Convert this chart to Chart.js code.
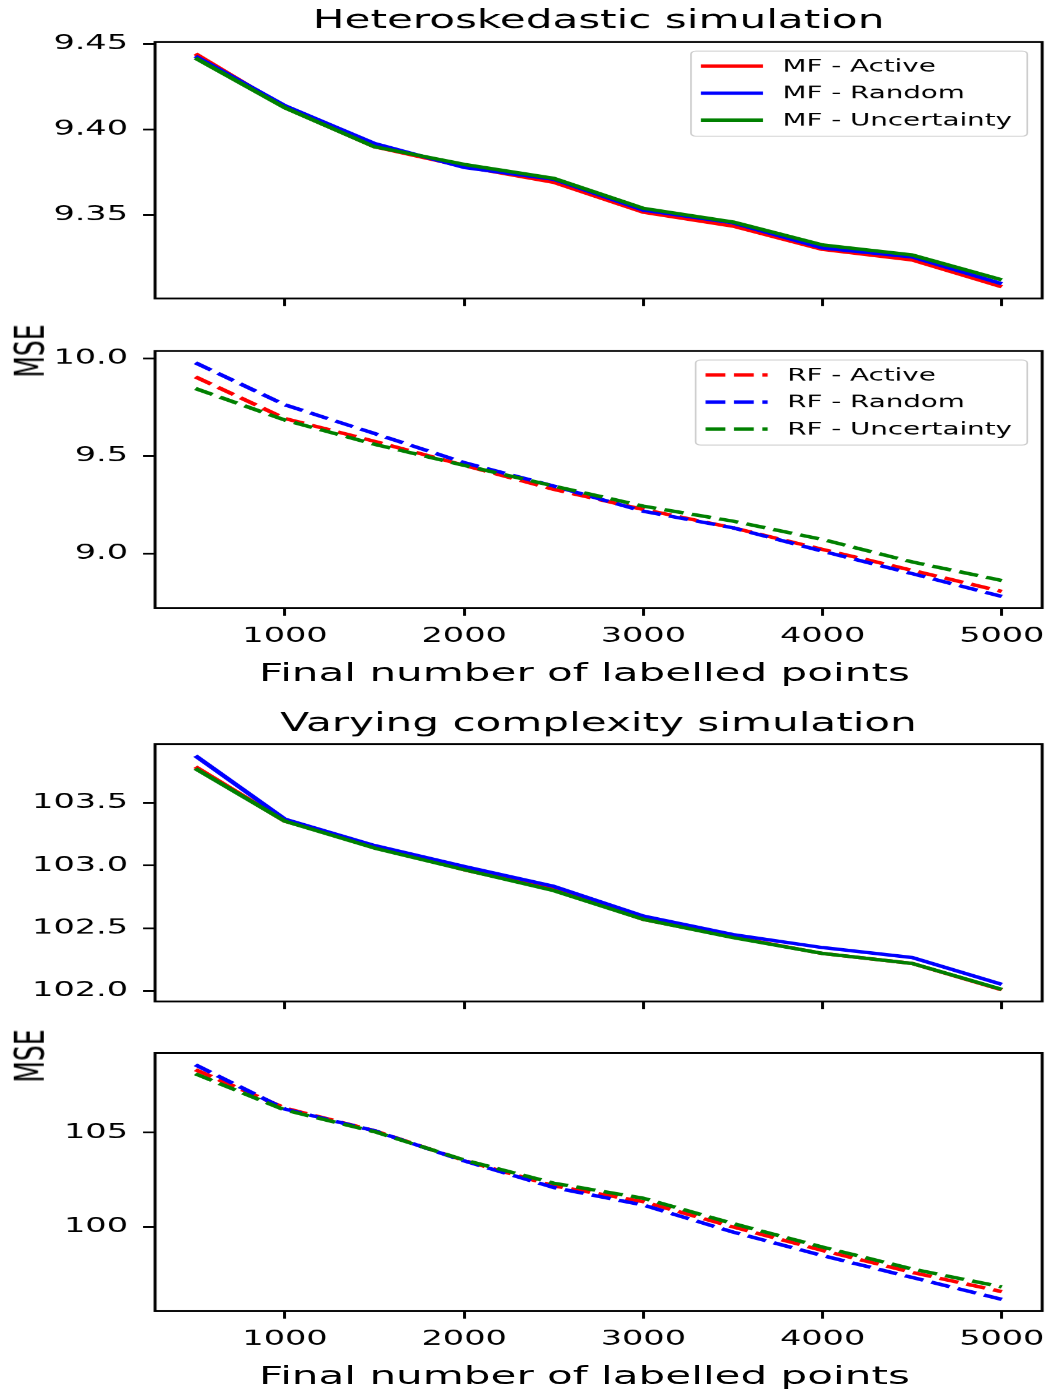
<!DOCTYPE html>
<html>
<head>
<meta charset="utf-8">
<script src="https://cdn.jsdelivr.net/npm/chart.js@4.4.0/dist/chart.umd.min.js"></script>
<style>
  html, body { margin: 0; padding: 0; background: #fff; overflow: hidden; }
  /* the reference figure is stretched sideways, so draw narrow and stretch */
  #fig { position: absolute; left: 0; top: 0; width: 636px; height: 1392px;
         transform: scaleX(1.651); transform-origin: 0 0; }
  #fig canvas { position: absolute; left: 0; }
  .lab { position: absolute; font-family: "DejaVu Sans"; color: #000; white-space: nowrap;
         line-height: 1; }
  .ylab { font-size: 25px; transform: translate(-50%, -50%) rotate(-90deg); }
  .xlab { font-size: 25.5px; transform: translate(-50%, -50%); }
</style>
</head>
<body>
<div id="fig">
  <canvas id="hetMf" width="636" height="310" style="top:0px"></canvas>
  <canvas id="hetRf" width="636" height="380" style="top:320px"></canvas>
  <canvas id="vcMf" width="636" height="310" style="top:700px"></canvas>
  <canvas id="vcRf" width="636" height="372" style="top:1020px"></canvas>
  <div class="lab ylab" style="left:18px; top:351px">MSE</div>
  <div class="lab ylab" style="left:18px; top:1056px">MSE</div>
  <div class="lab xlab" style="left:354px; top:673px">Final number of labelled points</div>
  <div class="lab xlab" style="left:354px; top:1376px">Final number of labelled points</div>
</div>
<script>
const STRETCH = 1.651;

const labelledPoints = [500, 1000, 1500, 2000, 2500, 3000, 3500, 4000, 4500, 5000];
const xTickLabels = ['1000', '2000', '3000', '4000', '5000'];
const methodNames = ['Active', 'Random', 'Uncertainty'];
const methodColors = ['#ff0000', '#0000ff', '#008000'];

// Heteroskedastic simulation
const hetMfActive = [9.4444, 9.4130, 9.3900, 9.3785, 9.3692, 9.3517, 9.3436, 9.3300, 9.3238, 9.3081];
const hetMfRandom = [9.4430, 9.4140, 9.3919, 9.3779, 9.3710, 9.3530, 9.3455, 9.3308, 9.3256, 9.3099];
const hetMfUncertainty = [9.4419, 9.4128, 9.3900, 9.3797, 9.3715, 9.3540, 9.3460, 9.3326, 9.3267, 9.3122];
const hetMfTicks = ['9.35', '9.40', '9.45'];

const hetRfActive = [9.906, 9.692, 9.575, 9.452, 9.329, 9.226, 9.132, 9.021, 8.914, 8.806];
const hetRfRandom = [9.978, 9.762, 9.615, 9.466, 9.346, 9.217, 9.132, 9.012, 8.897, 8.780];
const hetRfUncertainty = [9.846, 9.684, 9.560, 9.452, 9.346, 9.243, 9.166, 9.072, 8.957, 8.862];
const hetRfTicks = ['9.0', '9.5', '10.0'];

// Varying complexity simulation
const vcMfActive = [103.789, 103.355, 103.155, 102.967, 102.810, 102.571, 102.430, 102.298, 102.218, 102.008];
const vcMfRandom = [103.877, 103.370, 103.160, 102.993, 102.834, 102.597, 102.449, 102.345, 102.266, 102.051];
const vcMfUncertainty = [103.775, 103.355, 103.140, 102.967, 102.800, 102.571, 102.425, 102.298, 102.218, 102.011];
const vcMfTicks = ['102.0', '102.5', '103.0', '103.5'];

const vcRfActive = [108.34, 106.30, 105.10, 103.52, 102.18, 101.34, 100.00, 98.75, 97.59, 96.57];
const vcRfRandom = [108.60, 106.25, 105.10, 103.50, 102.09, 101.16, 99.73, 98.48, 97.32, 96.16];
const vcRfUncertainty = [108.12, 106.20, 105.05, 103.55, 102.32, 101.52, 100.18, 98.93, 97.77, 96.82];
const vcRfTicks = ['100', '105'];

Chart.defaults.font.family = '"DejaVu Sans", sans-serif';
Chart.defaults.color = '#000';

// matplotlib style limits: 5% margin around the data
function limits(arrays) {
  const all = [].concat(...arrays);
  const lo = Math.min(...all), hi = Math.max(...all);
  const m = (hi - lo) * 0.05;
  return [lo - m, hi + m];
}

const frame = {
  id: 'frame',
  afterDraw(chart) {
    const { ctx, chartArea: a } = chart;
    ctx.save();
    ctx.strokeStyle = '#000';
    ctx.lineWidth = 1.8;
    ctx.strokeRect(a.left, a.top, a.right - a.left, a.bottom - a.top);
    ctx.restore();
  }
};

const boxLegend = {
  id: 'boxLegend',
  afterDraw(chart) {
    const { ctx, chartArea: a } = chart;
    const sets = chart.data.datasets;
    ctx.save();
    ctx.font = '16.8px "DejaVu Sans"';
    const textW = Math.max(...sets.map(d => ctx.measureText(d.label).width));
    const width = 6 + 37.6 + 12.7 + textW + 8.5;
    const right = a.right - 9;
    const left = right - width;
    ctx.beginPath();
    ctx.roundRect(left, a.top + 9, width, 85, 3);
    ctx.fillStyle = 'rgba(255,255,255,0.8)';
    ctx.fill();
    ctx.strokeStyle = '#cccccc';
    ctx.lineWidth = 1;
    ctx.stroke();
    sets.forEach((d, i) => {
      const y = a.top + 24 + 27 * i;
      ctx.beginPath();
      ctx.setLineDash(d.borderDash || []);
      ctx.strokeStyle = d.borderColor;
      ctx.lineWidth = d.borderWidth;
      ctx.moveTo(left + 6, y);
      ctx.lineTo(left + 43.6, y);
      ctx.stroke();
      ctx.setLineDash([]);
      ctx.fillStyle = '#000';
      ctx.textBaseline = 'middle';
      ctx.fillText(d.label, left + 55.5, y + 1);
    });
    ctx.restore();
  }
};

function makePanel(id, p) {
  const xr = limits([labelledPoints]);
  const yr = limits(p.series);
  const datasets = p.series.map((vals, i) => ({
    label: p.prefix + ' - ' + methodNames[i],
    data: labelledPoints.map((x, j) => ({ x, y: vals[j] })),
    borderColor: methodColors[i],
    borderWidth: 3.4,
    borderDash: p.dashed ? [12, 5.2] : [],
    borderJoinStyle: 'round',
    pointRadius: 0,
    tension: 0,
    order: 3 - i
  }));

  return new Chart(document.getElementById(id), {
    type: 'line',
    data: { datasets },
    plugins: p.legend ? [frame, boxLegend] : [frame],
    options: {
      responsive: false,
      animation: false,
      devicePixelRatio: STRETCH,
      layout: { padding: { left: 0, right: 4.8, top: p.padTop, bottom: 0 } },
      plugins: {
        legend: { display: false },
        tooltip: { enabled: false },
        title: {
          display: !!p.title,
          text: p.title,
          fullSize: false,
          color: '#000',
          font: { size: 25.5, weight: 'normal', lineHeight: 1.2 },
          padding: { top: p.titleTop || 0, bottom: p.titleBottom || 0 }
        }
      },
      scales: {
        x: {
          type: 'linear',
          min: xr[0],
          max: xr[1],
          afterBuildTicks: ax => { ax.ticks = xTickLabels.map(l => ({ value: Number(l) })); },
          afterFit: ax => { ax.height = p.xHeight; ax.paddingLeft = 0; ax.paddingRight = 0; },
          border: { display: false },
          grid: { drawOnChartArea: false, drawTicks: true, tickLength: 7.5, tickWidth: 1.8,
                  tickColor: '#000', color: '#000', lineWidth: 1.8 },
          ticks: { display: p.xLabels, autoSkip: false, maxRotation: 0, padding: 8.5,
                   font: { size: 20.3 }, callback: (v, i) => xTickLabels[i] }
        },
        y: {
          min: yr[0],
          max: yr[1],
          afterBuildTicks: ax => { ax.ticks = p.ticks.map(l => ({ value: Number(l) })); },
          afterFit: ax => { ax.width = 93.9; ax.paddingTop = 0; ax.paddingBottom = 0; },
          border: { display: false },
          grid: { drawOnChartArea: false, drawTicks: true, tickLength: 7.3, tickWidth: 1.8,
                  tickColor: '#000', color: '#000', lineWidth: 1.8 },
          ticks: { autoSkip: false, padding: 9.1, font: { size: 20.3 },
                   callback: (v, i) => p.ticks[i] }
        }
      }
    }
  });
}

makePanel('hetMf', {
  series: [hetMfActive, hetMfRandom, hetMfUncertainty], prefix: 'MF', dashed: false, legend: true,
  ticks: hetMfTicks, title: 'Heteroskedastic simulation', titleTop: 6, titleBottom: 5.4,
  padTop: 0, xHeight: 12, xLabels: false
});
makePanel('hetRf', {
  series: [hetRfActive, hetRfRandom, hetRfUncertainty], prefix: 'RF', dashed: true, legend: true,
  ticks: hetRfTicks, padTop: 31, xHeight: 92, xLabels: true
});
makePanel('vcMf', {
  series: [vcMfActive, vcMfRandom, vcMfUncertainty], prefix: 'MF', dashed: false, legend: false,
  ticks: vcMfTicks, title: 'Varying complexity simulation', titleTop: 8.7, titleBottom: 4.7,
  padTop: 0, xHeight: 9, xLabels: false
});
makePanel('vcRf', {
  series: [vcRfActive, vcRfRandom, vcRfUncertainty], prefix: 'RF', dashed: true, legend: false,
  ticks: vcRfTicks, padTop: 33, xHeight: 81, xLabels: true
});
</script>
</body>
</html>
